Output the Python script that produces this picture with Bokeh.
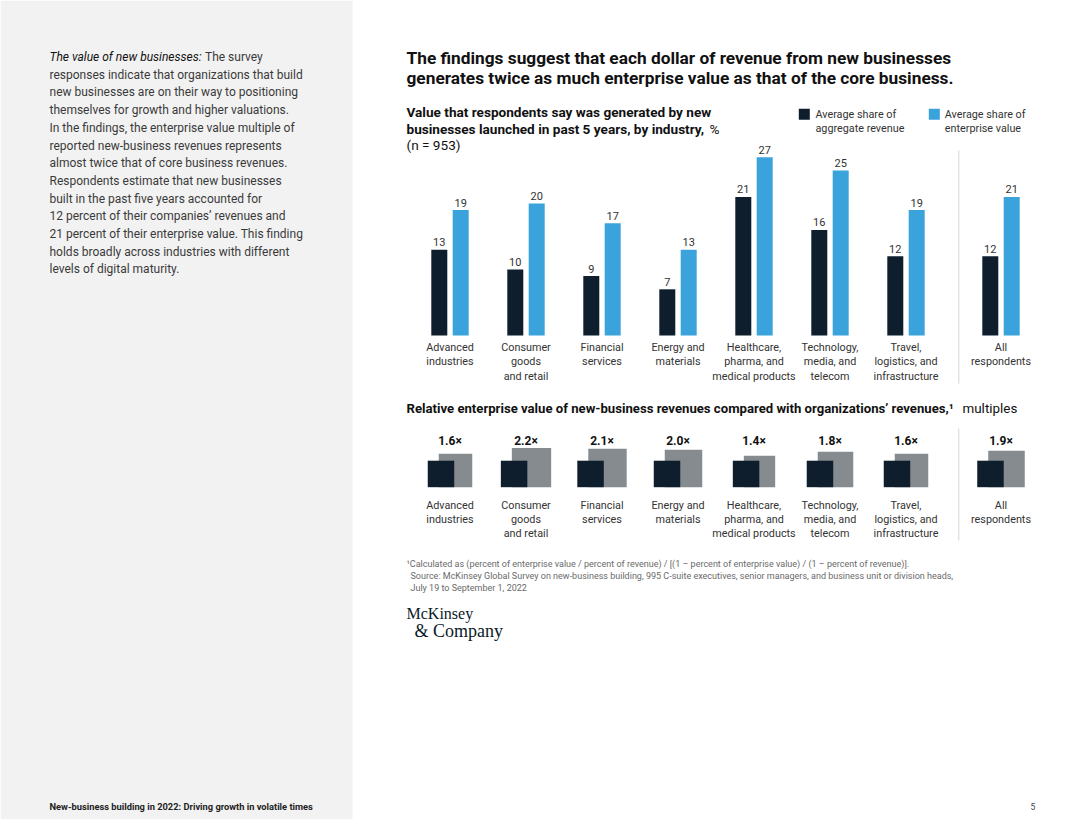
import numpy as np
from bokeh.plotting import figure
from bokeh.models import Range1d
from bokeh.core.properties import value
from bokeh.embed import file_html
from bokeh.resources import INLINE

# ---------------- data ----------------
categories = ["Advanced\nindustries", "Consumer\ngoods\nand retail", "Financial\nservices",
              "Energy and\nmaterials", "Healthcare,\npharma, and\nmedical products",
              "Technology,\nmedia, and\ntelecom", "Travel,\nlogistics, and\ninfrastructure",
              "All\nrespondents"]
revenue_share = [13, 10, 9, 7, 21, 16, 12, 12]
ev_share = [19, 20, 17, 13, 27, 25, 19, 21]
multiples = [1.6, 2.2, 2.1, 2.0, 1.4, 1.8, 1.6, 1.9]

title_lines = ["The findings suggest that each dollar of revenue from new businesses",
               "generates twice as much enterprise value as that of the core business."]
sub_lines = ["Value that respondents say was generated by new",
             "businesses launched in past 5 years, by industry,"]
sub_unit = "%"
sub_n = "(n = 953)"
legend_labels = ["Average share of\naggregate revenue", "Average share of\nenterprise value"]
sec2_title = "Relative enterprise value of new-business revenues compared with organizations\u2019 revenues,\u00b9"
sec2_unit = "multiples"
footnotes = ["\u00b9Calculated as (percent of enterprise value / percent of revenue) / [(1 \u2013 percent of enterprise value) / (1 \u2013 percent of revenue)].",
             "Source: McKinsey Global Survey on new-business building, 995 C-suite executives, senior managers, and business unit or division heads,",
             "July 19 to September 1, 2022"]
side_intro = "The value of new businesses:"
side_lines = ["The survey",
              "responses indicate that organizations that build",
              "new businesses are on their way to positioning",
              "themselves for growth and higher valuations.",
              "In the findings, the enterprise value multiple of",
              "reported new-business revenues represents",
              "almost twice that of core business revenues.",
              "Respondents estimate that new businesses",
              "built in the past five years accounted for",
              "12 percent of their companies\u2019 revenues and",
              "21 percent of their enterprise value. This finding",
              "holds broadly across industries with different",
              "levels of digital maturity."]
footer_text = "New-business building in 2022: Driving growth in volatile times"
page_no = "5"

# ---------------- style ----------------
DARK = "#0e1e2d"
CYAN = "#3ba3dc"
GRAY = "#868b90"
PANEL = "#f2f2f2"
SEP = "#d6d6d6"
TXT = "#333333"
HEAD = "#111111"
FONT = "Roboto"

W, H = 1064, 819
p = figure(width=W, height=H, output_backend="svg", toolbar_location=None,
           x_range=Range1d(0, W), y_range=Range1d(H, 0),
           x_axis_type=None, y_axis_type=None, min_border=0)
p.grid.visible = False
p.outline_line_color = None
p.background_fill_color = "white"
p.border_fill_color = "white"

# category scale: 76 px per category, first category centred at x 449.5
CAT_PX, CAT0 = 76.0, 449.5
p.extra_x_ranges["cats"] = Range1d((0 - CAT0) / CAT_PX, (W - CAT0) / CAT_PX)
# value scale: 0 % at y 335, 6.6 px per percentage point
BASE, PX_PCT = 335.0, 6.6
p.extra_y_ranges["bars"] = Range1d(-(H - BASE) / PX_PCT, BASE / PX_PCT)

group_gap = 0.25
pos = np.array([i + (group_gap if c.startswith("All") else 0) for i, c in enumerate(categories)])

def txt(x, y, s, size, color=TXT, style="normal", align="left", baseline="middle", font=FONT, lh=1.2, **kw):
    xs = x if isinstance(x, (list, np.ndarray)) else [x]
    ys = y if isinstance(y, (list, np.ndarray)) else [y]
    ss = s if isinstance(s, list) else [s]
    p.text(x=list(xs), y=list(ys), text=ss, text_font=value(font), text_font_size=f"{size}px",
           text_font_style=style, text_color=color, text_align=align, text_baseline=baseline,
           text_line_height=lh, **kw)

# left panel
p.quad(left=0, right=352, top=0, bottom=840, fill_color=PANEL, line_color=None)
txt(49, 56.5, side_intro, 12, color="#111111", style="italic")
txt(204.5, 56.5, side_lines[0], 12, color="#3a3a3a")
for i, line in enumerate(side_lines[1:]):
    txt(49, 56.5 + 17.7 * (i + 1), line, 12, color="#3a3a3a")
txt(49, 806, footer_text, 9.3, color="#222222", style="bold")
txt(1030, 806, page_no, 8.5, color="#444444")

# titles
txt(406, 57, title_lines[0], 17.3, color=HEAD, style="bold")
txt(406, 77.5, title_lines[1], 17.3, color=HEAD, style="bold")
txt(406, 111.5, sub_lines[0], 13.6, color=HEAD, style="bold")
txt(406, 128, sub_lines[1], 13.6, color=HEAD, style="bold")
txt(709, 128, sub_unit, 13.6, color=HEAD)
txt(406, 144, sub_n, 13.6, color=HEAD)

# legend
p.rect(x=[803.8, 933.8], y=[113.8, 113.8], width=11, height=11, fill_color=[DARK, CYAN], line_color=None)
txt([815, 944.3], [107.5, 107.5], legend_labels, 10.8, baseline="top", lh=1.06)

# bars
BAR_W, BAR_OFF = 16 / CAT_PX, 10.7 / CAT_PX
p.vbar(x=pos - BAR_OFF, top=revenue_share, bottom=0, width=BAR_W, fill_color=DARK, line_color=None,
       x_range_name="cats", y_range_name="bars")
p.vbar(x=pos + BAR_OFF, top=ev_share, bottom=0, width=BAR_W, fill_color=CYAN, line_color=None,
       x_range_name="cats", y_range_name="bars")
p.text(x=list(pos - BAR_OFF), y=revenue_share, text=[str(v) for v in revenue_share],
       x_range_name="cats", y_range_name="bars", text_font=value(FONT), text_font_size="11px",
       text_color=TXT, text_align="center", text_baseline="middle", y_offset=-7.5)
p.text(x=list(pos + BAR_OFF), y=ev_share, text=[str(v) for v in ev_share],
       x_range_name="cats", y_range_name="bars", text_font=value(FONT), text_font_size="11px",
       text_color=TXT, text_align="center", text_baseline="middle", y_offset=-7.5)
p.text(x=list(pos), y=[340.5] * len(pos), text=categories, x_range_name="cats",
       text_font=value(FONT), text_font_size="10.8px", text_color=TXT, text_align="center",
       text_baseline="top", text_line_height=1.1)
p.segment(x0=[958.3, 958.3], x1=[958.3, 958.3], y0=[150, 428], y1=[383, 540], line_color=SEP, line_width=1)

# section 2
txt(406, 408, sec2_title, 13.15, color=HEAD, style="bold")
txt(962, 408, sec2_unit, 13.4, color=HEAD)
mult = np.array(multiples)
D = 26.5
G = D * np.sqrt(mult)
Wg = 11 + G
y_bot = 486.7
dark_x = pos + (-Wg / 2 + D / 2) / CAT_PX
gray_x = pos + (-Wg / 2 + 11 + G / 2) / CAT_PX
p.rect(x=list(gray_x), y=list(y_bot - G / 2), width=list(G), height=list(G), width_units="screen",
       height_units="screen", fill_color=GRAY, line_color=None, x_range_name="cats")
p.rect(x=list(dark_x), y=[y_bot - D / 2] * len(pos), width=D, height=D, width_units="screen",
       height_units="screen", fill_color=DARK, line_color=None, x_range_name="cats")
p.text(x=list(pos), y=[440.5] * len(pos), text=[f"{m:.1f}\u00d7" for m in multiples], x_range_name="cats",
       text_font=value(FONT), text_font_size="12px", text_font_style="bold", text_color=HEAD,
       text_align="center", text_baseline="middle")
p.text(x=list(pos), y=[498] * len(pos), text=categories, x_range_name="cats",
       text_font=value(FONT), text_font_size="10.8px", text_color=TXT, text_align="center",
       text_baseline="top", text_line_height=1.1)

# footnotes
txt(406, 563, footnotes[0], 9, color="#6a6a6a")
txt(410, 575, footnotes[1], 9, color="#6a6a6a")
txt(410, 587, footnotes[2], 9, color="#6a6a6a")

# logo
txt(406, 613, "McKinsey", 16, color="#0a1a28", font="Liberation Serif")
txt(414, 630, "& Company", 18, color="#0a1a28", font="Liberation Serif")

open("out.html", "w").write(file_html(p, INLINE))
